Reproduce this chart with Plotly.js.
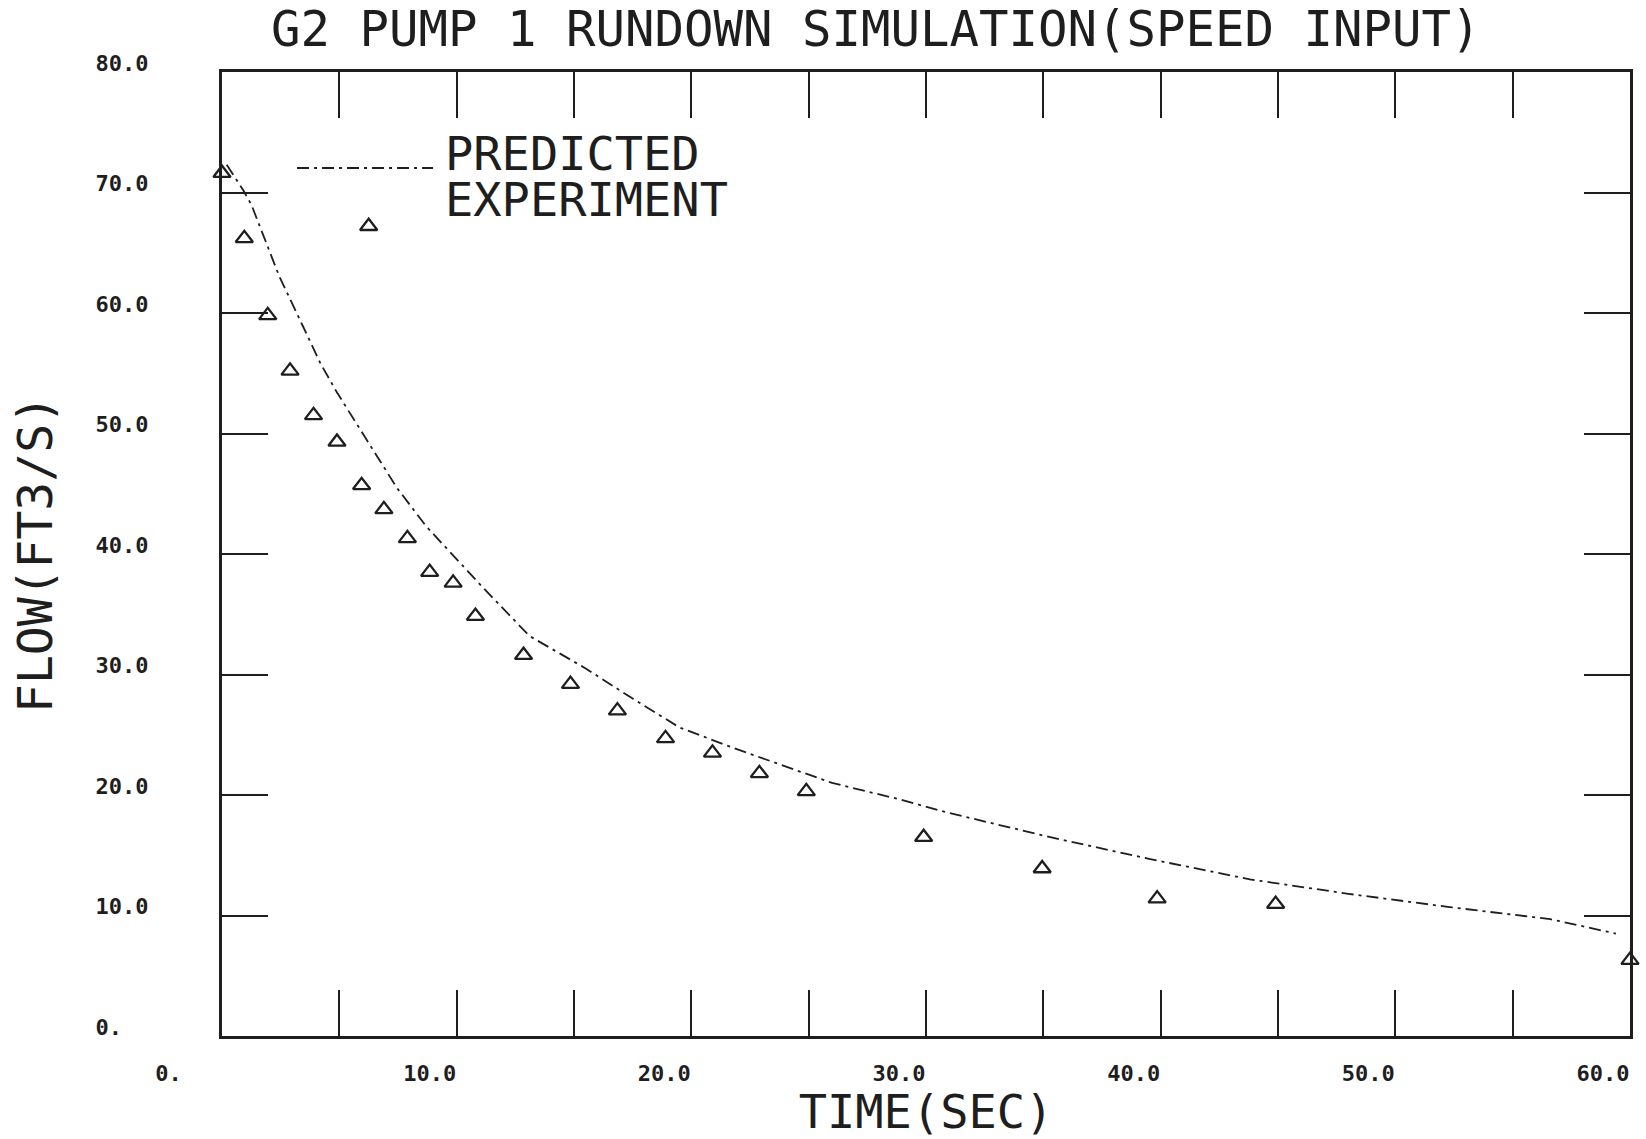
<!DOCTYPE html>
<html>
<head>
<meta charset="utf-8">
<script src="https://cdn.plot.ly/plotly-3.0.1.min.js"></script>
<style>html,body{margin:0;padding:0;background:#fff;}#chart{width:1646px;height:1139px;}</style>
</head>
<body>
<div id="chart"></div>
<script>
// ---- data ----
const expTime = [0, 0.95, 1.95, 2.9, 3.9, 4.9, 5.95, 6.25, 6.9, 7.9, 8.85, 9.85, 10.8, 12.85, 14.85, 16.85, 18.9, 20.9, 22.9, 24.9, 29.9, 34.95, 39.85, 44.9, 60];
const expFlow = [71.6, 66.2, 59.8, 55.2, 51.5, 49.3, 45.7, 67.2, 43.7, 41.3, 38.5, 37.6, 34.85, 31.6, 29.2, 27.0, 24.7, 23.5, 21.8, 20.3, 16.5, 13.9, 11.4, 10.95, 6.3];

const predTime = [0.2, 0.9, 1.25, 2.45, 3.45, 4.2, 4.9, 5.6, 6.45, 7.45, 8.7, 10.0, 11.15, 13.1, 15.5, 17.5, 19.5, 21.8, 24.0, 26.0, 28.75, 31.0, 35.3, 39.5, 43.8, 48.0, 52.3, 56.6, 59.4];
const predFlow = [72.3, 70.2, 69.0, 63.0, 58.9, 55.8, 53.4, 51.2, 48.6, 45.5, 42.3, 39.6, 37.15, 33.2, 30.5, 28.0, 25.6, 23.9, 22.4, 21.0, 19.7, 18.5, 16.5, 14.7, 13.0, 11.8, 10.7, 9.7, 8.5];

const xTickVals = [0, 5, 10, 15, 20, 25, 30, 35, 40, 45, 50, 55, 60];
const xTickText = ['0.\u00a0\u00a0\u00a0\u00a0', '', '10.0', '', '20.0', '', '30.0', '', '40.0', '', '50.0', '', '60.0'];
const yTickVals = [0, 10, 20, 30, 40, 50, 60, 70, 80];
const yTickText = ['0.\u00a0\u00a0', '10.0', '20.0', '30.0', '40.0', '50.0', '60.0', '70.0', '80.0'];

const titleText = 'G2 PUMP 1 RUNDOWN SIMULATION(SPEED INPUT)';
const xTitle = 'TIME(SEC)';
const yTitle = 'FLOW(FT3/S)';
const legendNames = ['PREDICTED', 'EXPERIMENT'];

// ---- styles ----
const ink = '#1e1e1e';
const mono = "'DejaVu Sans Mono', monospace";
const dashStyle = '12px,5px,3px,5px';

const traces = [
  {
    x: predTime, y: predFlow, type: 'scatter', mode: 'lines', name: legendNames[0],
    line: {color: ink, width: 1.8, dash: dashStyle}, showlegend: false, cliponaxis: false
  },
  {
    x: expTime, y: expFlow, type: 'scatter', mode: 'markers', name: legendNames[1],
    marker: {symbol: 'triangle-up-open', size: 15, color: ink, line: {color: ink, width: 2.3}},
    showlegend: false, cliponaxis: false
  }
];

const axisCommon = {
  showgrid: false, zeroline: false, showline: true, linewidth: 3, linecolor: ink,
  mirror: 'ticks', ticks: 'inside', ticklen: 46, tickwidth: 2, tickcolor: ink,
  tickmode: 'array', fixedrange: true,
  tickfont: {family: mono, size: 22, color: ink, weight: 'bold'}
};

const layout = {
  width: 1646, height: 1139,
  margin: {l: 222, r: 16, t: 72, b: 103},
  paper_bgcolor: '#ffffff', plot_bgcolor: '#ffffff',
  title: {
    text: titleText, font: {family: mono, size: 49, color: ink},
    xref: 'container', x: 0.532, xanchor: 'center',
    yref: 'container', y: 0.975, yanchor: 'middle'
  },
  xaxis: Object.assign({}, axisCommon, {
    range: [0, 60], tickvals: xTickVals, ticktext: xTickText,
    ticklabelstandoff: 16, ticklabelshift: -27,
    title: {text: xTitle, font: {family: mono, size: 47, color: ink}, standoff: 26}
  }),
  yaxis: Object.assign({}, axisCommon, {
    range: [0, 80], tickvals: yTickVals, ticktext: yTickText,
    ticklabelstandoff: 66, ticklabelshift: -9,
    title: {text: yTitle, font: {family: mono, size: 48, color: ink}, standoff: 28}
  }),
  shapes: [
    {type: 'line', xref: 'paper', yref: 'paper', x0: 0.0533, x1: 0.1499, y0: 0.9004, y1: 0.9004,
     line: {color: ink, width: 1.8, dash: dashStyle}}
  ],
  annotations: [
    {text: legendNames[0], xref: 'paper', yref: 'paper', x: 0.158, y: 0.9155, xanchor: 'left', yanchor: 'middle',
     showarrow: false, borderpad: 0, font: {family: mono, size: 47, color: ink}},
    {text: legendNames[1], xref: 'paper', yref: 'paper', x: 0.158, y: 0.8675, xanchor: 'left', yanchor: 'middle',
     showarrow: false, borderpad: 0, font: {family: mono, size: 47, color: ink}}
  ],
  showlegend: false
};

Plotly.newPlot('chart', traces, layout, {displayModeBar: false, staticPlot: true});
</script>
</body>
</html>
